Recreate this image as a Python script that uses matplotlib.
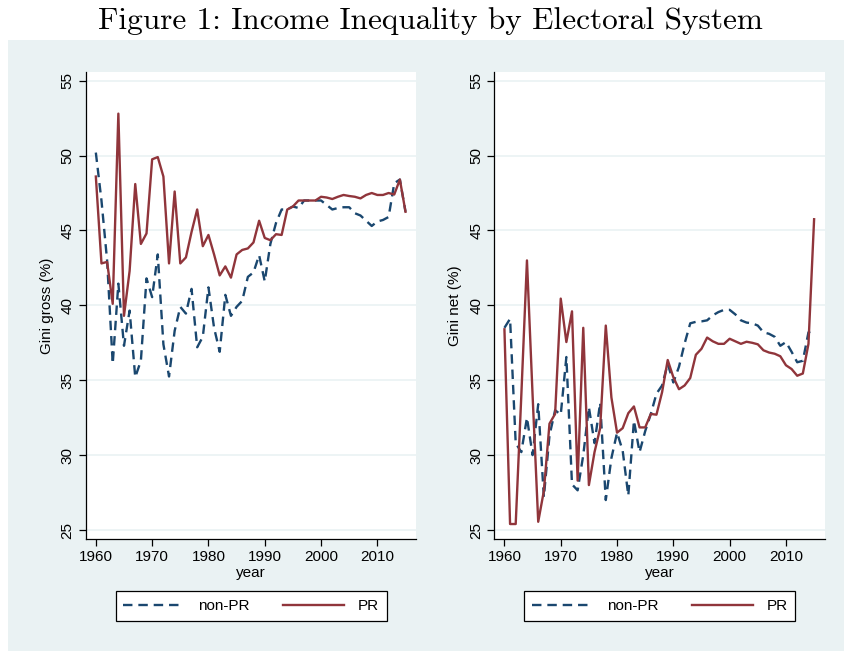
import numpy as np
import matplotlib.pyplot as plt
from matplotlib.patches import Rectangle

plt.rcParams['font.family'] = ['Liberation Sans', 'DejaVu Sans']

years = np.arange(1960, 2016)

# Gini gross (%)
gross_pr = [48.6, 42.8, 42.9, 40.1, 52.8, 39.3, 42.3, 48.1, 44.1, 44.8,
            49.75, 49.9, 48.6, 42.8, 47.6, 42.8, 43.2, 44.9, 46.4, 43.95,
            44.7, 43.4, 42.0, 42.6, 41.85, 43.4, 43.7, 43.8, 44.2, 45.65,
            44.5, 44.35, 44.75, 44.7, 46.4, 46.6, 47.0, 47.0, 47.0, 47.0,
            47.25, 47.2, 47.1, 47.25, 47.37, 47.3, 47.25, 47.14, 47.37, 47.5,
            47.37, 47.37, 47.5, 47.4, 48.4, 46.25]
gross_nonpr = [50.2, 47.0, 43.0, 36.1, 41.45, 37.3, 39.65, 35.2, 36.3, 41.8,
               40.55, 43.4, 37.4, 35.25, 38.3, 39.9, 39.45, 41.1, 37.2, 37.9,
               41.2, 38.5, 36.9, 40.7, 39.3, 39.9, 40.3, 41.9, 42.2, 43.35,
               41.6, 44.1, 45.5, 46.4, 46.4, 46.6, 46.5, 47.0, 47.0, 47.0,
               47.0, 46.7, 46.4, 46.5, 46.55, 46.55, 46.15, 46.0, 45.65, 45.3,
               45.6, 45.7, 45.9, 48.15, 48.4, 46.25]

# Gini net (%)
net_pr = [38.4, 25.4, 25.4, 34.0, 43.0, 34.0, 25.55, 27.6, 32.1, 32.75,
          40.45, 37.55, 39.6, 28.3, 38.5, 28.0, 30.2, 31.8, 38.65, 33.85,
          31.5, 31.8, 32.8, 33.25, 31.85, 31.85, 32.75, 32.7, 34.2, 36.35,
          35.2, 34.4, 34.65, 35.15, 36.7, 37.1, 37.85, 37.6, 37.43, 37.43,
          37.77, 37.6, 37.43, 37.57, 37.5, 37.4, 37.0, 36.85, 36.77, 36.6,
          36.0, 35.75, 35.3, 35.45, 37.43, 45.75]
net_nonpr = [38.5, 39.1, 30.8, 30.2, 32.5, 30.0, 33.4, 27.2, 31.3, 33.0,
             32.7, 36.55, 28.05, 27.65, 30.0, 33.2, 30.8, 33.5, 27.0, 29.8,
             31.5, 30.3, 27.3, 32.3, 30.2, 31.6, 32.75, 34.1, 34.65, 36.1,
             34.85, 35.9, 37.45, 38.8, 38.9, 38.93, 39.0, 39.33, 39.55, 39.7,
             39.7, 39.4, 39.0, 38.85, 38.8, 38.65, 38.2, 38.1, 37.9, 37.3,
             37.55, 36.9, 36.2, 36.3, 38.2, 38.3]

navy = '#1A476F'
maroon = '#90353B'
bg = '#EAF2F3'

fig = plt.figure(figsize=(8.44, 6.51), dpi=100)
fig.patches.append(Rectangle((8 / 844, 0), 1, 1 - 40 / 651, transform=fig.transFigure,
                             facecolor=bg, edgecolor='none', zorder=-1))
fig.text(430 / 844, 1 - 21 / 651, 'Figure 1: Income Inequality by Electoral System',
         ha='center', va='center', fontsize=22.5, family='cmr10')

panels = [
    (85.7, gross_nonpr, gross_pr, 'Gini gross (%)'),
    (494.3, net_nonpr, net_pr, 'Gini net (%)'),
]

for left_px, nonpr, pr, ylab in panels:
    ax = fig.add_axes([left_px / 844, 1 - 539 / 651, 330.5 / 844, 467.3 / 651])
    ax.set_facecolor('white')
    ax.plot(years, nonpr, color=navy, lw=1.7, linestyle=(0, (4, 2.5)), label='non-PR')
    ax.plot(years, pr, color=maroon, lw=1.7, label='PR')
    ax.set_xlim(1958.2, 2016.9)
    ax.set_ylim(24.4, 55.6)
    ax.set_xticks(np.arange(1960, 2011, 10))
    ax.set_yticks(np.arange(25, 56, 5))
    ax.grid(axis='y', color='#EAF2F3', lw=1.2)
    ax.set_axisbelow(True)
    for s in ['top', 'right']:
        ax.spines[s].set_visible(False)
    for s in ['left', 'bottom']:
        ax.spines[s].set_linewidth(0.9)
    ax.tick_params(direction='out', length=5, width=0.9, labelsize=11, pad=3)
    plt.setp(ax.get_yticklabels(), rotation=90, va='center')
    ax.set_xlabel('year', fontsize=11, labelpad=1)
    ax.set_ylabel(ylab, fontsize=11, labelpad=5)

    leg = ax.legend(loc='center', ncol=2, bbox_to_anchor=((left_px + 165.5) / 844, 1 - 606 / 651),
                    bbox_transform=fig.transFigure, fontsize=11, frameon=True,
                    fancybox=False, framealpha=1, edgecolor='black',
                    handlelength=4.0, handletextpad=0.9, columnspacing=2.2,
                    borderpad=0.5)
    leg.get_frame().set_linewidth(0.9)

plt.savefig('out.png', dpi=100)
